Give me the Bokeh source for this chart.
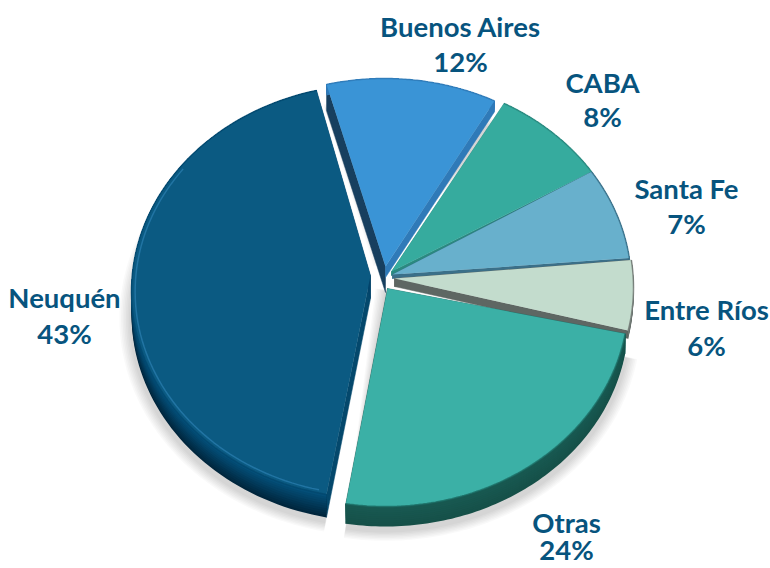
import numpy as np
from bokeh.plotting import figure
from bokeh.models import Range1d
from bokeh.core.properties import value
from bokeh.embed import file_html
from bokeh.resources import INLINE

names = ["Buenos Aires", "CABA", "Santa Fe", "Entre Ríos", "Otras", "Neuquén"]
shares = [12, 8, 7, 6, 24, 43]

top_cols = ["#3a94d6", "#36ab9e", "#68b0cc", "#c3dccd", "#3bb0a6", "#0b5a82"]
edge_cols = ["#2f7ab8", "#2a8a80", "#3b7089", "#6f7572", "#1d6f66", "#03486f"]
start_side = ["#173f5f", "#2a8a80", "#3b7089", "#5e6763", "#1d6f66", "#04486c"]
end_side = ["#2f7ab8", "#2a8a80", "#3b7089", "#5e6763", "#17544c", "#02436a"]
arc_hi = ["#2f7ab8", "#2a8a80", "#3b7089", "#7a8580", "#185a52", "#04507a"]
arc_lo = ["#2f7ab8", "#2a8a80", "#3b7089", "#5e6763", "#164f48", "#00243a"]

# explosion layout of the drawing
centers = [(384, 285), (388, 285), (388, 285), (390, 287), (385, 299), (374, 291)]
apexes = [(385, 266), (391, 271), (392, 274), (394, 278), (387, 288), (370, 275)]
depths = [11, 4, 4, 8, 20, 23]
start_depths = [26, 4, 4, 8, 20, 23]
# small corrections for the perspective of the 3-D pie, in degrees
nudge = [(0, -2.5), (-1, -1.5), (-1.5, -1), (-1, -3), (-5.5, -2), (0, 0)]
RX, RY = 243, 207
START = -13.8

W, H = 770, 568
p = figure(width=W, height=H, x_range=Range1d(0, W), y_range=Range1d(H, 0),
           toolbar_location=None, output_backend="svg", min_border=0)
p.axis.visible = False
p.grid.visible = False
p.outline_line_color = None
p.background_fill_color = "white"
p.border_fill_color = "white"


def rim(c, a0, a1, k=1.0, n=90):
    t = np.radians(np.linspace(a0, a1, n))
    return c[0] + k * RX * np.sin(t), c[1] - k * RY * np.cos(t)


def mix(a, b, f):
    ca = [int(a[i:i + 2], 16) for i in (1, 3, 5)]
    cb = [int(b[i:i + 2], 16) for i in (1, 3, 5)]
    return "#%02x%02x%02x" % tuple(int(round(x + (y - x) * f)) for x, y in zip(ca, cb))


edges = START + np.cumsum([0] + [s * 3.6 for s in shares])
spans = [(a + n[0], b + n[1]) for a, b, n in zip(edges[:-1], edges[1:], nudge)]

# soft shadow beneath the exploded slices
for idx in (0, 4, 5):
    a0, a1 = spans[idx]
    for s in range(7):
        grow = 12 - s * 1.6
        x, y = rim(centers[idx], a0, a1, k=1 + grow / 240)
        ax, ay = apexes[idx]
        xs = np.r_[ax - grow, x]
        ys = np.r_[ay, y + start_depths[idx] + 4]
        p.patch(xs, ys, fill_color="#000000", fill_alpha=0.022, line_color=None)

for i in range(6):
    a0, a1 = spans[i]
    c, (ax, ay), d = centers[i], apexes[i], depths[i]
    sd = start_depths[i]
    x, y = rim(c, a0, a1)
    # radial side walls
    p.patch([x[0], ax, ax, x[0]], [y[0], ay, ay + sd, y[0] + sd],
            fill_color=start_side[i], line_color=start_side[i], line_width=0.5)
    p.patch([x[-1], ax, ax, x[-1]], [y[-1], ay, ay + d, y[-1] + d],
            fill_color=end_side[i], line_color=end_side[i], line_width=0.5)
    # curved outer wall, shaded top to bottom, painted from the lowest band up
    bands = 10
    for b in reversed(range(bands)):
        d1 = d * (b + 1) / bands
        col = mix(arc_hi[i], arc_lo[i], (b + 0.5) / bands)
        p.patch(np.r_[x, x[::-1]], np.r_[y, (y + d1)[::-1]],
                fill_color=col, line_color=None)
    # upper face
    p.patch(np.r_[ax, x], np.r_[ay, y], fill_color=top_cols[i], line_color=None)
    # rim edge
    p.line(x, y, line_color=edge_cols[i], line_width=1.5, line_alpha=0.8)

# bevel highlight on the large navy slice
a0, a1 = spans[5]
x, y = rim(centers[5], a0 + 2, a1 - 2, k=0.985)
keep = y > centers[5][1] - RY * 0.6
p.line(x[keep], y[keep], line_color="#2b7fb0", line_width=1.5, line_alpha=0.7)

label_pos = {
    "Buenos Aires": (460, 26, 61),
    "CABA": (602, 82, 116),
    "Santa Fe": (686, 188, 223),
    "Entre Ríos": (706, 309, 345),
    "Otras": (566, 522, 549),
    "Neuquén": (64, 297, 333),
}
for name, share in zip(names, shares):
    lx, y1, y2 = label_pos[name]
    for txt, ly in ((name, y1), (f"{share}%", y2)):
        p.text([lx], [ly], text=[txt], text_align="center", text_baseline="middle",
               text_font=value("Lato"), text_font_style="bold", text_font_size="27.5px",
               text_color="#07547e")

open("out.html", "w").write(file_html(p, INLINE))
